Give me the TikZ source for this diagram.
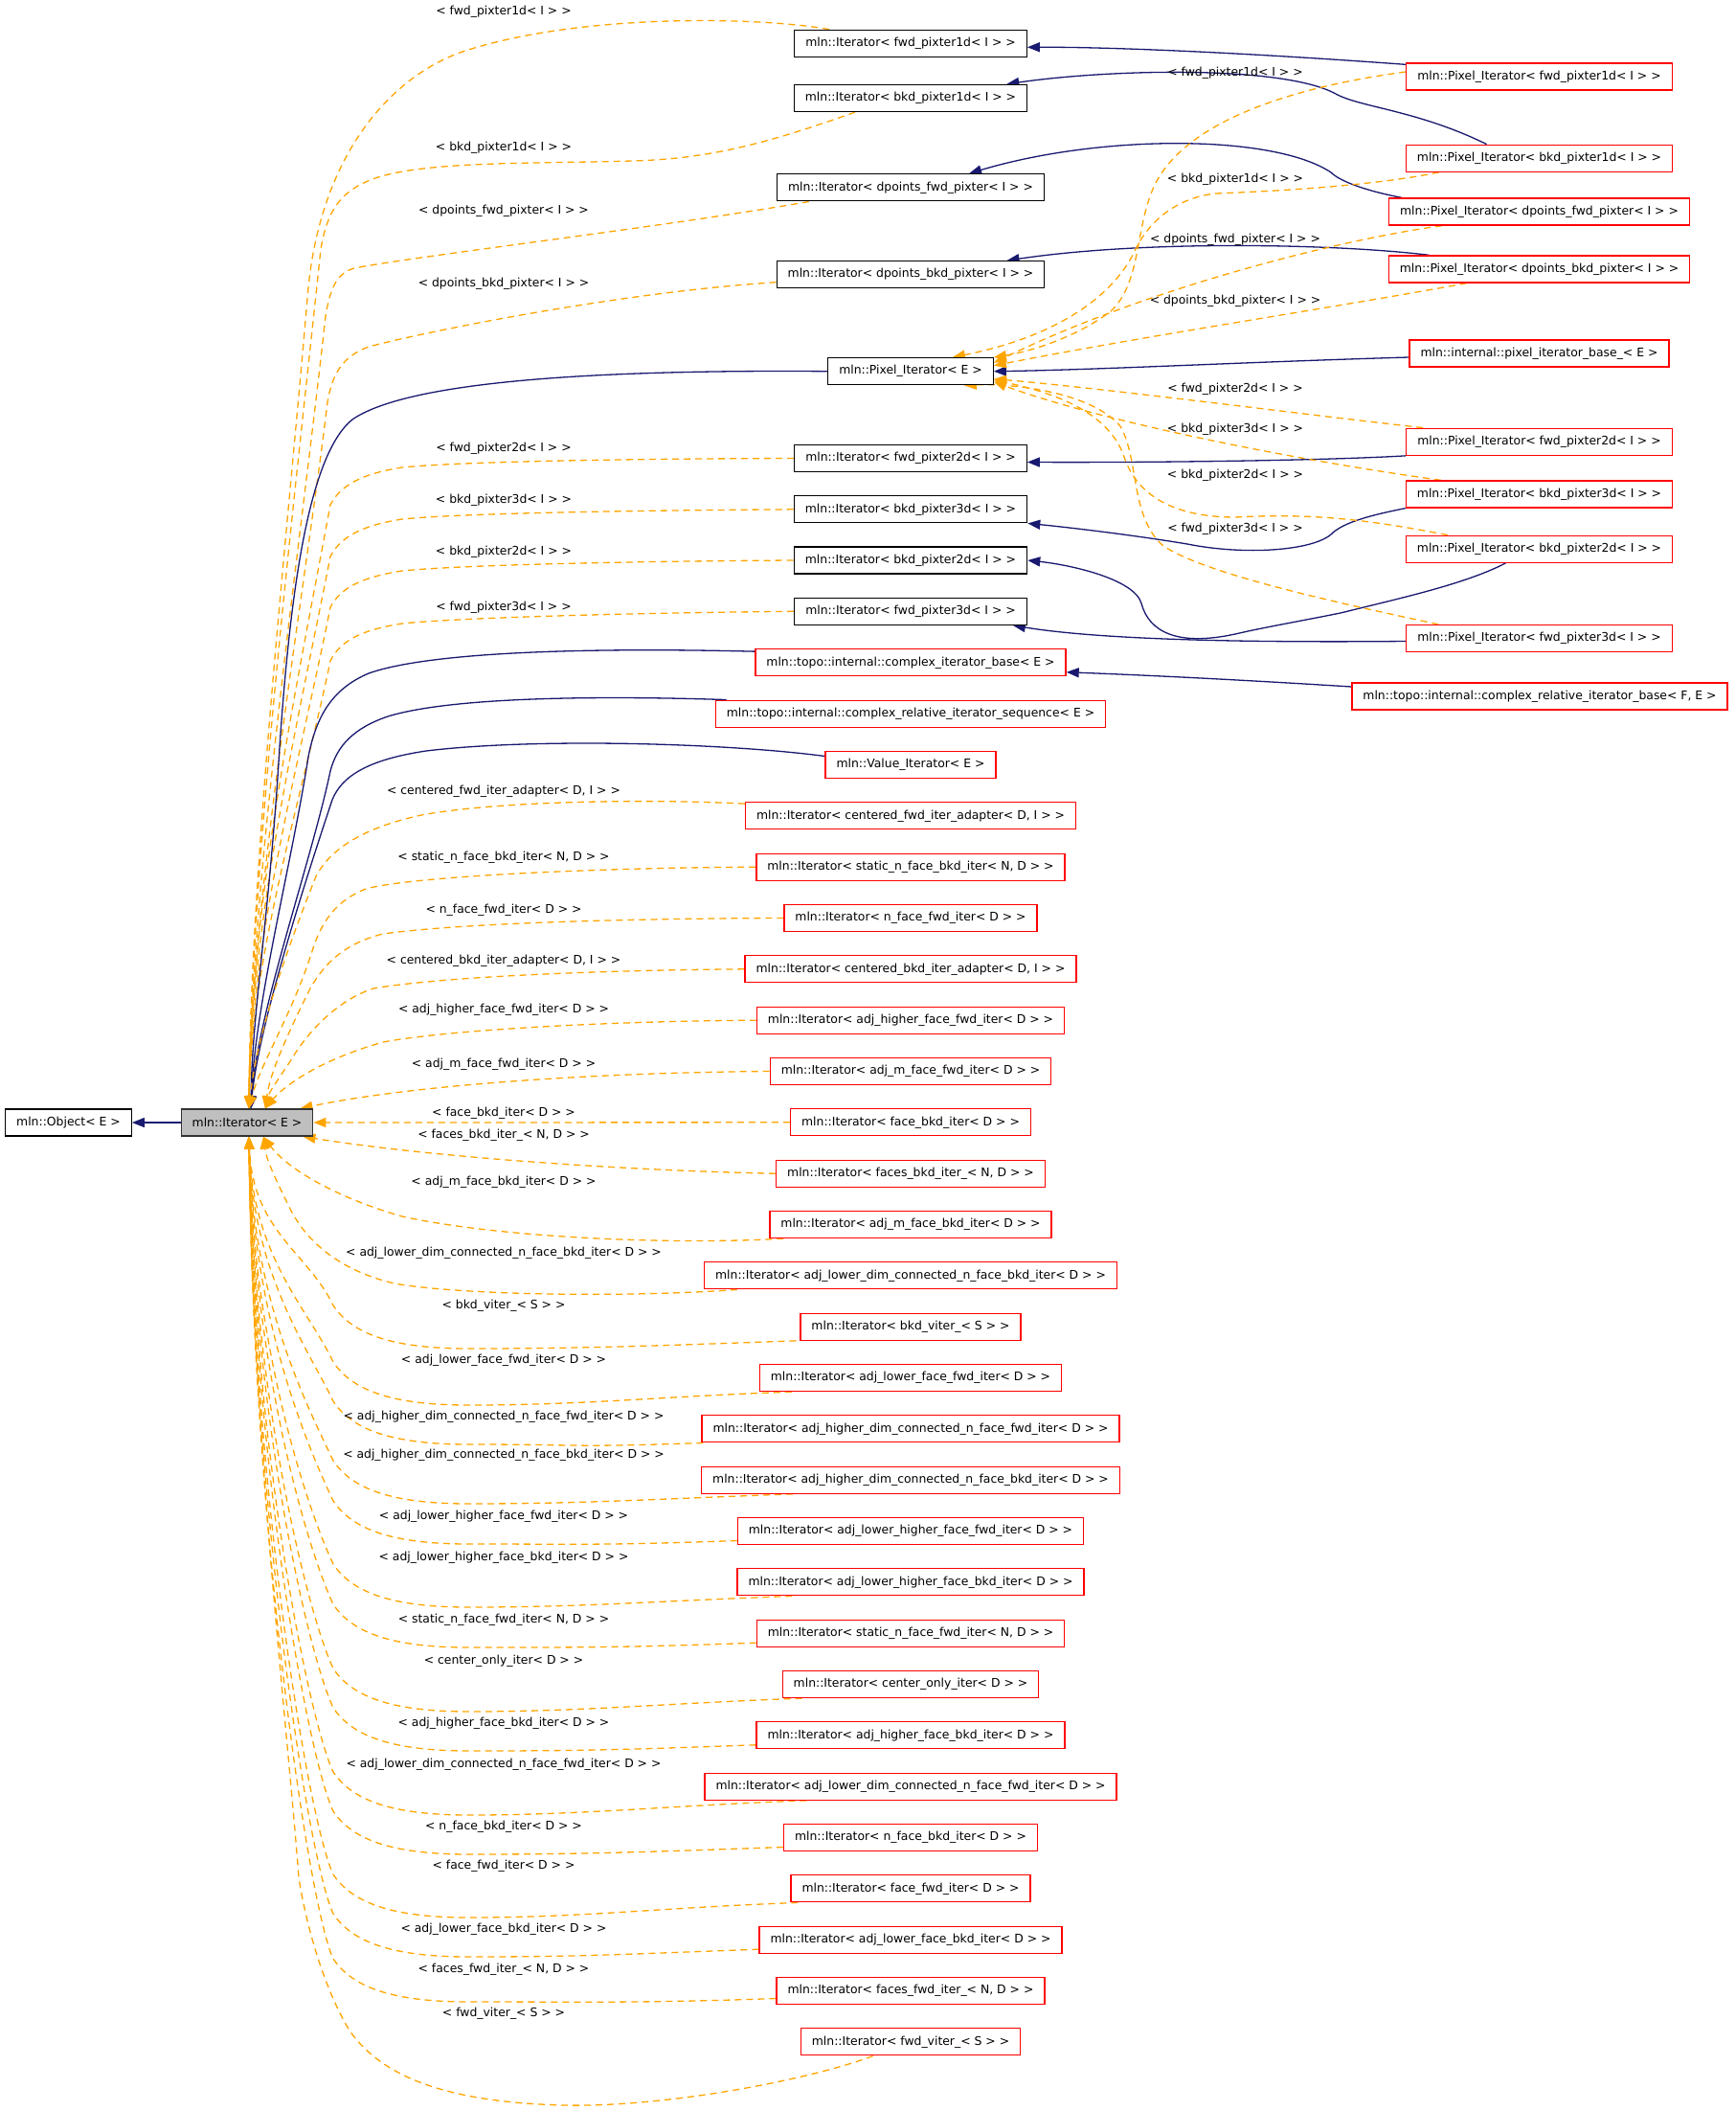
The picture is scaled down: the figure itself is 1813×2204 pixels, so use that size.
\documentclass[tikz,border=0pt]{standalone}
\usepackage{fontspec}
\setmainfont{DejaVu Sans}
\usetikzlibrary{arrows.meta,calc,backgrounds}
\definecolor{navy}{HTML}{191970}
\definecolor{orng}{HTML}{FFA500}
\definecolor{gfill}{HTML}{BFBFBF}
\definecolor{rbord}{HTML}{FF0000}
\newcommand\nodefnt{\fontsize{12.4pt}{14pt}\selectfont}
\tikzset{
 box/.style={draw=black, line width=1.3pt, fill=white, minimum height=28pt, inner xsep=11.5pt, inner ysep=0pt, font=\nodefnt, text=black},
 rbox/.style={box, draw=rbord},
 gbox/.style={box, fill=gfill, draw=black!80},
 lbl/.style={font=\nodefnt, inner sep=0pt, text=black},
 inh/.style={draw=navy, line width=1.3pt, -{Triangle[length=13pt,width=10pt]}},
 tmpl/.style={draw=orng, line width=1.3pt, dash pattern=on 7pt off 5pt, -{Triangle[length=13pt,width=10pt]}},
}
\newcommand\citer[4]{%
 \node[rbox] (#1) at (951,#2) {mln::Iterator< #4 >};
 \node[lbl] (l#1) at (526,#3) {< #4 >};
}
\newcommand\lowedge[2]{%
 \draw[tmpl] (#1) .. controls ($(#1)+(-140,5)$) and (610,#2) .. (490,#2) .. controls (410,#2) and (368,#2-15) .. (348,#2-45) .. controls (322,#2-100) and (264,1186+0.45*#2-533.7) .. (itBa);
}
\begin{document}
\begin{tikzpicture}[x=1pt,y=-1pt]
\useasboundingbox (0,0) rectangle (1813,2204);
% ---------- nodes ----------
\node[box] (obj) at (71.5,1172) {mln::Object< E >};
\node[gbox] (it) at (258,1172) {mln::Iterator< E >};

\node[box] (i1) at (951,45.3) {mln::Iterator< fwd\_pixter1d< I > >};
\node[box] (i2) at (951,102.5) {mln::Iterator< bkd\_pixter1d< I > >};
\node[box] (i3) at (951,195.8) {mln::Iterator< dpoints\_fwd\_pixter< I > >};
\node[box] (i4) at (951,286.7) {mln::Iterator< dpoints\_bkd\_pixter< I > >};
\node[box] (pe) at (951,387.7) {mln::Pixel\_Iterator< E >};
\node[box] (i5) at (951,478.5) {mln::Iterator< fwd\_pixter2d< I > >};
\node[box] (i6) at (951,531.8) {mln::Iterator< bkd\_pixter3d< I > >};
\node[box] (i7) at (951,585) {mln::Iterator< bkd\_pixter2d< I > >};
\node[box] (i8) at (951,638.3) {mln::Iterator< fwd\_pixter3d< I > >};
\node[rbox] (cib) at (951,691.8) {mln::topo::internal::complex\_iterator\_base< E >};
\node[rbox] (cris) at (951,745.2) {mln::topo::internal::complex\_relative\_iterator\_sequence< E >};
\node[rbox] (vi) at (951,798.5) {mln::Value\_Iterator< E >};

\citer{c0}{851.8}{826.7}{centered\_fwd\_iter\_adapter< D, I >}
\citer{c1}{905.2}{895.7}{static\_n\_face\_bkd\_iter< N, D >}
\citer{c2}{958.5}{950.7}{n\_face\_fwd\_iter< D >}
\citer{c3}{1011.8}{1003.3}{centered\_bkd\_iter\_adapter< D, I >}
\citer{c4}{1065.2}{1054.7}{adj\_higher\_face\_fwd\_iter< D >}
\citer{c5}{1118.5}{1111.7}{adj\_m\_face\_fwd\_iter< D >}
\citer{c6}{1171.8}{1162.3}{face\_bkd\_iter< D >}
\citer{c7}{1225.2}{1185}{faces\_bkd\_iter\_< N, D >}
\citer{c8}{1278.5}{1234.3}{adj\_m\_face\_bkd\_iter< D >}
\citer{c9}{1331.8}{1308.3}{adj\_lower\_dim\_connected\_n\_face\_bkd\_iter< D >}
\citer{c10}{1385.2}{1363.3}{bkd\_viter\_< S >}
\citer{c11}{1438.5}{1420}{adj\_lower\_face\_fwd\_iter< D >}
\citer{c12}{1491.8}{1479.3}{adj\_higher\_dim\_connected\_n\_face\_fwd\_iter< D >}
\citer{c13}{1545.2}{1519.3}{adj\_higher\_dim\_connected\_n\_face\_bkd\_iter< D >}
\citer{c14}{1598.5}{1583.3}{adj\_lower\_higher\_face\_fwd\_iter< D >}
\citer{c15}{1651.8}{1626.7}{adj\_lower\_higher\_face\_bkd\_iter< D >}
\citer{c16}{1705.2}{1691.7}{static\_n\_face\_fwd\_iter< N, D >}
\citer{c17}{1758.5}{1734.3}{center\_only\_iter< D >}
\citer{c18}{1811.8}{1799.3}{adj\_higher\_face\_bkd\_iter< D >}
\citer{c19}{1865.2}{1842.3}{adj\_lower\_dim\_connected\_n\_face\_fwd\_iter< D >}
\citer{c20}{1918.5}{1907.3}{n\_face\_bkd\_iter< D >}
\citer{c21}{1971.8}{1948.3}{face\_fwd\_iter< D >}
\citer{c22}{2025.2}{2014.3}{adj\_lower\_face\_bkd\_iter< D >}
\citer{c23}{2078.5}{2056.7}{faces\_fwd\_iter\_< N, D >}
\citer{c24}{2131.8}{2102.3}{fwd\_viter\_< S >}

\node[rbox] (p1) at (1607.5,80) {mln::Pixel\_Iterator< fwd\_pixter1d< I > >};
\node[rbox] (p2) at (1607.5,165.2) {mln::Pixel\_Iterator< bkd\_pixter1d< I > >};
\node[rbox] (p3) at (1607.5,221) {mln::Pixel\_Iterator< dpoints\_fwd\_pixter< I > >};
\node[rbox] (p4) at (1607.5,281) {mln::Pixel\_Iterator< dpoints\_bkd\_pixter< I > >};
\node[rbox] (pib) at (1607.5,369) {mln::internal::pixel\_iterator\_base\_< E >};
\node[rbox] (p5) at (1607.5,461.2) {mln::Pixel\_Iterator< fwd\_pixter2d< I > >};
\node[rbox] (p6) at (1607.5,516) {mln::Pixel\_Iterator< bkd\_pixter3d< I > >};
\node[rbox] (p7) at (1607.5,573.2) {mln::Pixel\_Iterator< bkd\_pixter2d< I > >};
\node[rbox] (p8) at (1607.5,666.5) {mln::Pixel\_Iterator< fwd\_pixter3d< I > >};
\node[rbox] (crib) at (1608,727) {mln::topo::internal::complex\_relative\_iterator\_base< F, E >};

% labels upper left
\node[lbl] (la1) at (526,12.5) {< fwd\_pixter1d< I > >};
\node[lbl] (la2) at (526,154.3) {< bkd\_pixter1d< I > >};
\node[lbl] (la3) at (526,220.7) {< dpoints\_fwd\_pixter< I > >};
\node[lbl] (la4) at (526,296.3) {< dpoints\_bkd\_pixter< I > >};
\node[lbl] (la5) at (526,468.3) {< fwd\_pixter2d< I > >};
\node[lbl] (la6) at (526,522.7) {< bkd\_pixter3d< I > >};
\node[lbl] (la7) at (526,576.7) {< bkd\_pixter2d< I > >};
\node[lbl] (la8) at (526,634.3) {< fwd\_pixter3d< I > >};
% labels right
\node[lbl] (lr1) at (1290,76.7) {< fwd\_pixter1d< I > >};
\node[lbl] (lr2) at (1290,187.3) {< bkd\_pixter1d< I > >};
\node[lbl] (lr3) at (1290,250) {< dpoints\_fwd\_pixter< I > >};
\node[lbl] (lr4) at (1290,314.3) {< dpoints\_bkd\_pixter< I > >};
\node[lbl] (lr5) at (1290,406.7) {< fwd\_pixter2d< I > >};
\node[lbl] (lr6) at (1290,448.3) {< bkd\_pixter3d< I > >};
\node[lbl] (lr7) at (1290,496) {< bkd\_pixter2d< I > >};
\node[lbl] (lr8) at (1290,552.3) {< fwd\_pixter3d< I > >};

% entry points on mln::Iterator< E >
\coordinate (itTa) at ($(it.north)+(2,0)$);
\coordinate (itTn) at ($(it.north)+(4,0)$);
\coordinate (itTb) at ($(it.north)+(19,0)$);
\coordinate (itTc) at ($(it.north east)+(-14,0)$);
\coordinate (itBa) at ($(it.south)+(2,0)$);
\coordinate (itBb) at ($(it.south)+(17,0)$);
\coordinate (itBc) at ($(it.south east)+(-11,0)$);

% start points of lower edges
\coordinate (s10) at ($(c10.south west)+(-4,0)$);
\coordinate (s11) at ($(c11.south west)+(34,0)$);
\coordinate (s12) at ($(c12.south west)+(2,0)$);
\coordinate (s13) at ($(c13.south west)+(96,0)$);
\coordinate (s14) at ($(c14.west)+(0,10)$);
\coordinate (s15) at ($(c15.south west)+(58,0)$);
\coordinate (s16) at ($(c16.west)+(0,10)$);
\coordinate (s17) at ($(c17.south west)+(21,0)$);
\coordinate (s18) at ($(c18.west)+(0,10)$);
\coordinate (s19) at ($(c19.south west)+(107,0)$);
\coordinate (s20) at ($(c20.west)+(0,10)$);
\coordinate (s21) at ($(c21.south west)+(8,0)$);
\coordinate (s22) at ($(c22.west)+(0,10)$);
\coordinate (s23) at ($(c23.west)+(0,8)$);

\begin{pgfonlayer}{background}
\fill[white] (0,0) rectangle (1813,2204);
% Iterator -> Object
\draw[inh] (it.west) -- (obj.east);
% upper left template edges
\draw[tmpl] ($(i1.north)+(-85,0)$) .. controls (790,17) and (600,14) .. (480,55) .. controls (400,85) and (335,170) .. (322,300) .. controls (300,560) and (262,900) .. (itTa);
\draw[tmpl] ($(i2.south)+(-58,0)$) .. controls (800,150) and (740,166) .. (660,168) .. controls (560,171) and (450,168) .. (395,185) .. controls (355,198) and (342,220) .. (335,260) .. controls (310,500) and (262,900) .. (itTa);
\draw[tmpl] ($(i3.south west)+(34,0)$) .. controls (700,236) and (430,268) .. (370,280) .. controls (352,285) and (345,300) .. (340,330) .. controls (315,560) and (262,920) .. (itTa);
\draw[tmpl] ($(i4.west)+(0,8)$) .. controls (650,305) and (450,345) .. (385,362) .. controls (358,372) and (347,390) .. (342,420) .. controls (318,620) and (262,940) .. (itTa);
\draw[tmpl] (i5.west) .. controls (650,479) and (480,482) .. (420,488) .. controls (375,495) and (355,508) .. (345,527) .. controls (310,716) and (262,940) .. (itTa);
\draw[tmpl] (i6.west) .. controls (650,533) and (480,536) .. (420,542) .. controls (375,549) and (355,562) .. (345,581) .. controls (312,750) and (262,960) .. (itTa);
\draw[tmpl] (i7.west) .. controls (650,586) and (480,590) .. (420,596) .. controls (375,603) and (355,615) .. (345,634) .. controls (314,790) and (262,980) .. (itTa);
\draw[tmpl] (i8.west) .. controls (650,640) and (480,645) .. (420,651) .. controls (375,658) and (355,670) .. (345,690) .. controls (316,830) and (262,1000) .. (itTa);
% upper left inheritance edges
\draw[inh] (pe.west) .. controls (650,386) and (430,395) .. (368,438) .. controls (322,475) and (303,620) .. (292,780) .. controls (282,950) and (263,1060) .. (itTn);
\draw[inh] ($(cib.north west)+(0,3)$) .. controls (620,676) and (450,680) .. (385,703) .. controls (345,720) and (330,750) .. (322,790) .. controls (305,900) and (266,1050) .. (itTn);
\draw[inh] ($(cris.north west)+(12,0)$) .. controls (620,726) and (470,728) .. (405,748) .. controls (370,760) and (352,778) .. (345,805) .. controls (325,900) and (268,1060) .. (itTn);
\draw[inh] ($(vi.west)+(0,-9)$) .. controls (760,776) and (560,770) .. (445,784) .. controls (385,793) and (357,810) .. (347,835) .. controls (322,910) and (270,1070) .. (itTn);
% middle template edges
\draw[tmpl] ($(c0.north west)+(0,2)$) .. controls (680,834) and (520,836) .. (440,851) .. controls (380,864) and (345,886) .. (330,915) .. controls (300,990) and (268,1080) .. (itTa);
\draw[tmpl] (c1.west) .. controls (620,906) and (430,915) .. (382,928) .. controls (352,940) and (337,960) .. (327,990) .. controls (305,1060) and (272,1110) .. (itTa);
\draw[tmpl] (c2.west) .. controls (650,959) and (480,964) .. (400,975) .. controls (360,985) and (340,1005) .. (325,1030) .. controls (300,1080) and (282,1120) .. (itTb);
\draw[tmpl] (c3.west) .. controls (620,1013) and (460,1020) .. (390,1032) .. controls (350,1045) and (320,1080) .. (305,1105) .. controls (292,1125) and (281,1140) .. (itTb);
\draw[tmpl] (c4.west) .. controls (640,1066) and (470,1075) .. (400,1088) .. controls (340,1105) and (300,1130) .. (itTb);
\draw[tmpl] (c5.west) .. controls (600,1120) and (420,1135) .. (itTc);
\draw[tmpl] (c6.west) -- (it.east);
\draw[tmpl] (c7.west) .. controls (650,1222) and (450,1208) .. (itBc);
\draw[tmpl] ($(c8.south west)+(15,0)$) .. controls (700,1300) and (520,1292) .. (420,1270) .. controls (350,1250) and (300,1220) .. (itBb);
\draw[tmpl] ($(c9.south west)+(35,0)$) .. controls (650,1355) and (480,1352) .. (412,1340) .. controls (360,1328) and (322,1300) .. (303,1262) .. controls (288,1232) and (278,1210) .. (itBb);
% lower template edges
\lowedge{s10}{1408}
\lowedge{s11}{1467}
\lowedge{s12}{1508}
\lowedge{s13}{1570}
\lowedge{s14}{1612}
\lowedge{s15}{1678}
\lowedge{s16}{1720}
\lowedge{s17}{1787}
\lowedge{s18}{1828}
\lowedge{s19}{1895}
\lowedge{s20}{1936}
\lowedge{s21}{2002}
\lowedge{s22}{2043}
\lowedge{s23}{2090}
\draw[tmpl] ($(c24.south west)+(76,0)$) .. controls (850,2170) and (700,2200) .. (590,2198) .. controls (470,2195) and (400,2170) .. (365,2120) .. controls (335,2070) and (318,2000) .. (312,1960) .. controls (300,1800) and (264,1500) .. (itBa);
% right side inheritance edges
\draw[inh] ($(p1.north west)+(0,2)$) .. controls (1300,55) and (1160,49) .. ($(i1.east)+(0,4)$);
\draw[inh] ($(p2.north)+(-55,0)$) .. controls (1480,115) and (1420,112) .. (1395,98) .. controls (1340,68) and (1160,72) .. ($(i2.north east)+(-22,0)$);
\draw[inh] ($(p3.north west)+(14,0)$) .. controls (1430,200) and (1400,190) .. (1390,180) .. controls (1330,140) and (1150,140) .. ($(i3.north east)+(-79,0)$);
\draw[inh] ($(p4.north west)+(43,0)$) .. controls (1400,255) and (1200,250) .. ($(i4.north east)+(-40,0)$);
\draw[inh] ($(pib.west)+(0,4)$) .. controls (1300,378) and (1150,386) .. (pe.east);
\draw[inh] (p5.south west) .. controls (1380,481) and (1200,483) .. ($(i5.east)+(0,4)$);
\draw[inh] (p6.south west) .. controls (1420,540) and (1400,548) .. (1390,558) .. controls (1370,575) and (1300,580) .. (1240,568) .. controls (1180,558) and (1110,550) .. (i6.south east);
\draw[inh] ($(p7.south)+(-35,0)$) .. controls (1530,610) and (1460,625) .. (1400,640) .. controls (1350,650) and (1320,655) .. (1290,662) .. controls (1230,675) and (1200,660) .. (1192,630) .. controls (1185,605) and (1120,590) .. (i7.east);
\draw[inh] ($(p8.west)+(0,3)$) .. controls (1300,671) and (1150,668) .. ($(i8.south east)+(-15,0)$);
\draw[inh] ($(crib.west)+(0,-10)$) .. controls (1300,710) and (1200,705) .. ($(cib.east)+(0,10)$);
% right side template edges
\draw[tmpl] ($(p1.west)+(0,-5)$) .. controls (1370,88) and (1240,120) .. (1205,195) .. controls (1185,240) and (1192,295) .. (1160,325) .. controls (1120,355) and (1070,368) .. (pe.north east);
\draw[tmpl] ($(p2.south west)+(35,0)$) .. controls (1430,195) and (1320,200) .. (1270,202) .. controls (1230,206) and (1200,230) .. (1185,262) .. controls (1165,305) and (1110,350) .. ($(pe.north east)+(-43,0)$);
\draw[tmpl] ($(p3.south west)+(56,0)$) .. controls (1400,250) and (1200,300) .. ($(pe.east)+(0,-9)$);
\draw[tmpl] ($(p4.south west)+(82,0)$) .. controls (1400,320) and (1200,350) .. ($(pe.east)+(0,-6)$);
\draw[tmpl] ($(p5.north west)+(18,0)$) .. controls (1380,435) and (1150,405) .. ($(pe.east)+(0,8)$);
\draw[tmpl] ($(p6.north west)+(37,0)$) .. controls (1350,480) and (1150,440) .. ($(pe.east)+(0,11)$);
\draw[tmpl] ($(p7.north west)+(44,0)$) .. controls (1440,545) and (1380,535) .. (1290,540) .. controls (1230,540) and (1190,520) .. (1175,480) .. controls (1160,430) and (1100,410) .. ($(pe.east)+(0,9)$);
\draw[tmpl] ($(p8.north west)+(34,0)$) .. controls (1400,630) and (1260,600) .. (1215,570) .. controls (1180,540) and (1190,480) .. (1170,445) .. controls (1140,410) and (1060,400) .. ($(pe.south east)+(-31,0)$);
\end{pgfonlayer}
\end{tikzpicture}
\end{document}
